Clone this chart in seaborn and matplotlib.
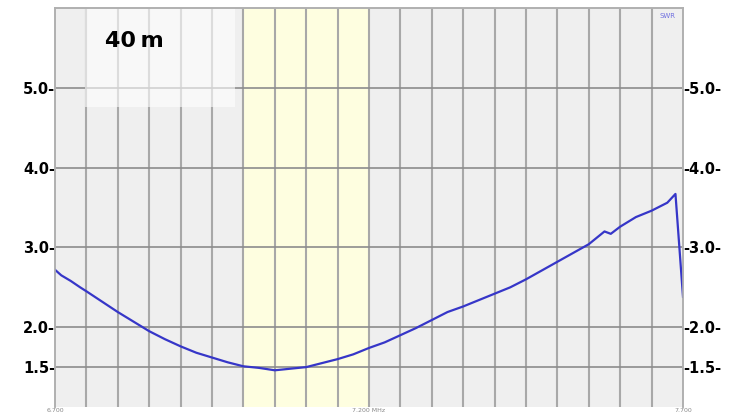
import matplotlib
matplotlib.use("Agg")
import matplotlib.pyplot as plt
import seaborn as sns
import pandas as pd
from matplotlib.patches import Rectangle

# ---- data ----
freq_mhz = [6.700, 6.710, 6.725, 6.740, 6.750, 6.775, 6.800, 6.825, 6.850, 6.875,
            6.900, 6.925, 6.950, 6.975, 7.000, 7.025, 7.050, 7.075, 7.100, 7.125,
            7.150, 7.175, 7.200, 7.225, 7.250, 7.275, 7.300, 7.325, 7.350, 7.375,
            7.400, 7.425, 7.450, 7.475, 7.500, 7.525, 7.550, 7.575, 7.585, 7.600,
            7.625, 7.650, 7.675, 7.688, 7.700]
swr = [2.72, 2.65, 2.58, 2.50, 2.45, 2.32, 2.19, 2.07, 1.95, 1.85,
       1.76, 1.68, 1.62, 1.56, 1.51, 1.49, 1.46, 1.48, 1.50, 1.55,
       1.60, 1.66, 1.74, 1.81, 1.90, 1.99, 2.09, 2.19, 2.26, 2.34,
       2.42, 2.50, 2.60, 2.71, 2.82, 2.93, 3.04, 3.20, 3.17, 3.26,
       3.38, 3.46, 3.56, 3.67, 2.38]
y_ticks = [1.5, 2.0, 3.0, 4.0, 5.0]
y_ticklabels = ["1.5", "2.0", "3.0", "4.0", "5.0"]
x_ticks = [6.700, 7.200, 7.700]
x_ticklabels = ["6.700", "7.200 MHz", "7.700"]
band_lo, band_hi = 7.000, 7.200
title = "40\u2009m"

df = pd.DataFrame({"freq": freq_mhz, "swr": swr})

plt.rcParams["font.family"] = ["DejaVu Sans"]

W, H = 736, 415
fig = plt.figure(figsize=(W / 100, H / 100), dpi=100)
ax = fig.add_axes([55 / W, 8 / H, 628 / W, 399 / H])
ax.set_facecolor("#efefef")

xmin, xmax = 6.7, 7.7
ymin, ymax = 1.0, 6.0
ax.set_xlim(xmin, xmax)
ax.set_ylim(ymin, ymax)

# band highlight
ax.axvspan(band_lo, band_hi, color="#fefee0", zorder=0.5, lw=0)

# vertical grid: 20 divisions
for i in range(1, 20):
    ax.axvline(xmin + i * (xmax - xmin) / 20, color="#a8a8a8", lw=1.5, zorder=1)
# horizontal grid
for v in y_ticks:
    ax.axhline(v, color="#8c8c8c", lw=1.2, zorder=1)

# label box
ax.add_patch(Rectangle((85, H - 107), 150, 99, transform=None,
                       facecolor="white", alpha=0.6, lw=0, zorder=2))
fig.text(105 / W, 1 - 41 / H, title, fontsize=16, fontweight="bold",
         ha="left", va="center", zorder=3)

sns.lineplot(data=df, x="freq", y="swr", ax=ax, color="#3636c8", lw=1.6,
             zorder=4, legend=False)

ax.set_xlabel("")
ax.set_ylabel("")

# y labels left and right
ax.set_yticks(y_ticks)
ax.set_yticklabels([t + "-" for t in y_ticklabels], fontsize=10.5, fontweight="bold")
ax.tick_params(axis="y", length=0, pad=0)
ax2 = ax.twinx()
ax2.set_ylim(ymin, ymax)
ax2.set_yticks(y_ticks)
ax2.set_yticklabels(["-" + t + "-" for t in y_ticklabels], fontsize=10.5, fontweight="bold")
ax2.tick_params(axis="y", length=0, pad=0)

# x labels tiny
ax.set_xticks(x_ticks)
ax.set_xticklabels(x_ticklabels, fontsize=4.5, color="#888888")
ax.tick_params(axis="x", length=0, pad=1)

for a in (ax, ax2):
    for s in a.spines.values():
        s.set_color("#b0b0b0")
        s.set_linewidth(1.2)
    a.spines["bottom"].set_visible(False)

fig.text(668 / W, 1 - 16 / H, "SWR", fontsize=5, color="#7070e0", ha="center", va="center")

fig.savefig("out.png", dpi=100, facecolor="white")
